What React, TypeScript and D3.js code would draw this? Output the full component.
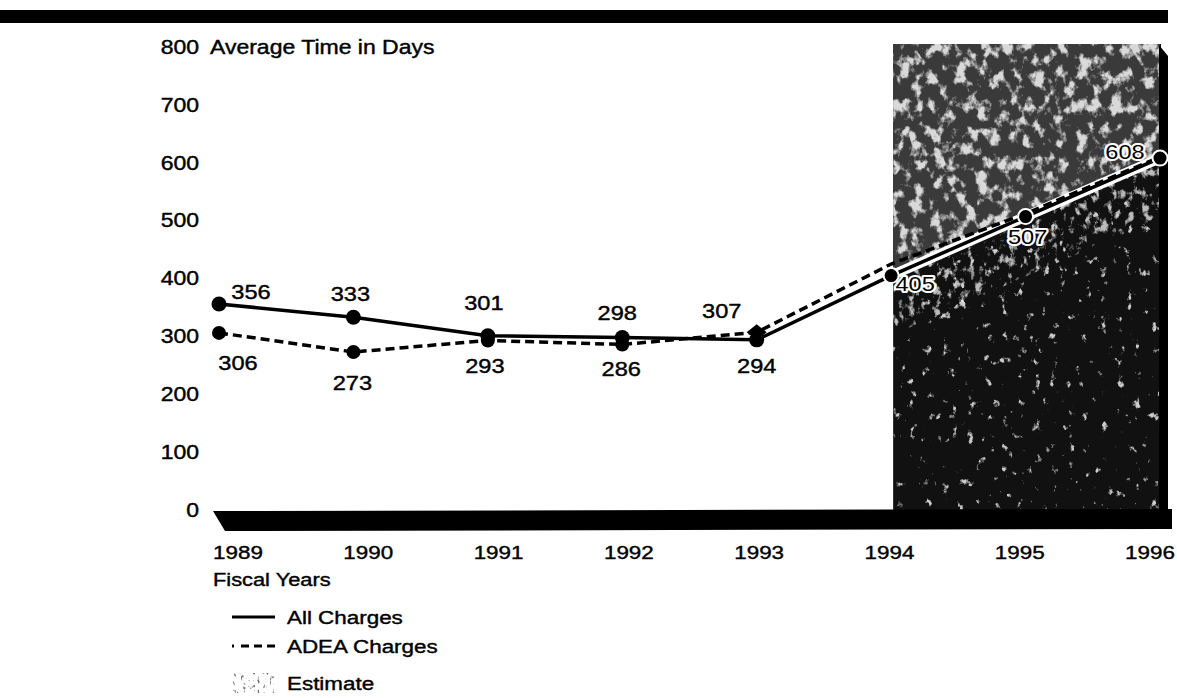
import React from "react";
import * as d3 from "d3";

// fiscal years and average processing time (days)
const years = [1989, 1990, 1991, 1992, 1993, 1994, 1995, 1996];
const allCharges = [356, 333, 301, 298, 294, 405, 507, 608];
const adeaCharges = [306, 273, 293, 286, 307, 425, 512, 610];
const adeaLabelled = 5; // only the actual years carry a value label on the ADEA line
const yTicks = [0, 100, 200, 300, 400, 500, 600, 700, 800];
const estimateFrom = 1994;
const legendItems = ["All Charges", "ADEA Charges", "Estimate"];

// label placement relative to each point (layout only)
const allOffsets = [[32, -12], [-3, -23], [-4, -33], [-5, -25], [0, 26], [24, 8], [2, 20], [-35, -6]];
const adeaOffsets = [[19, 30], [-1, 31], [-3, 26], [-1, 25], [-35, -21]];

const W = 1177;
const H = 698;
const FONT = "'Liberation Sans', Arial, Helvetica, sans-serif";

function Txt({ x, y, children, anchor = "start", size = 19.5, sx = 1.18, halo = false }: any) {
  return (
    <text
      transform={`translate(${x},${y}) scale(${sx},1)`}
      textAnchor={anchor}
      dy="0.35em"
      fontSize={size}
      fontFamily={FONT}
      fill="#000"
      stroke={halo ? "#fff" : "#000"}
      strokeWidth={halo ? 4 : 0.4}
      paintOrder="stroke"
      strokeLinejoin="round"
    >
      {children}
    </text>
  );
}

export default function App() {
  const x = d3.scalePoint<number>().domain(years).range([219, 1160]);
  const y = d3.scaleLinear().domain([0, 800]).range([510, 47]);
  const xLabel = d3.scalePoint<number>().domain(years).range([238, 1150]);

  const line = d3
    .line<number>()
    .x((_, i) => x(years[i])!)
    .y((d) => y(d));

  // estimate panel
  const estLeft = x(estimateFrom)! + 2;
  const estRight = x(years[years.length - 1])! + 1;
  const estTop = y(800) - 3;
  const estBottom = y(0);
  const estIdx = years.map((_, i) => i).filter((i) => years[i] >= estimateFrom);
  const estPts = estIdx.map((i) => ({ x: x(years[i])!, v: allCharges[i] }));

  const upperArea = d3
    .area<{ x: number; v: number }>()
    .x((d) => d.x)
    .y0(estTop)
    .y1((d) => y(d.v))(estPts);
  const lowerArea = d3
    .area<{ x: number; v: number }>()
    .x((d) => d.x)
    .y0((d) => y(d.v))
    .y1(estBottom)(estPts);
  const bandArea = d3
    .area<{ x: number; v: number }>()
    .x((d) => d.x)
    .y0((d) => y(d.v))
    .y1((d) => y(d.v) + 60)(estPts);

  const baseY = y(0);

  const diamond = (cx: number, cy: number) =>
    `M${cx},${cy - 8} L${cx + 10},${cy} L${cx},${cy + 8} L${cx - 10},${cy} Z`;

  const legendY = [617, 646, 683];
  const panel = { x: estLeft, y: estTop, width: estRight - estLeft, height: estBottom - estTop };

  return (
    <div style={{ position: "absolute", left: 0, top: 0, background: "#fff" }}>
      <svg width={W} height={H} viewBox={`0 0 ${W} ${H}`} style={{ display: "block" }}>
        <defs>
          <filter id="spkHi" filterUnits="userSpaceOnUse" x="0" y="0" width={W} height={H} colorInterpolationFilters="sRGB">
            <feTurbulence type="fractalNoise" baseFrequency="0.09 0.07" numOctaves={4} seed={7} result="n" />
            <feColorMatrix in="n" type="matrix" values="0 0 0 0 0.85  0 0 0 0 0.85  0 0 0 0 0.85  6 0 0 0 -3.0" result="s" />
            <feComposite in="s" in2="SourceGraphic" operator="in" />
          </filter>
          <filter id="spkLo" filterUnits="userSpaceOnUse" x="0" y="0" width={W} height={H} colorInterpolationFilters="sRGB">
            <feTurbulence type="fractalNoise" baseFrequency="0.12 0.09" numOctaves={4} seed={11} result="n" />
            <feColorMatrix in="n" type="matrix" values="0 0 0 0 0.8  0 0 0 0 0.8  0 0 0 0 0.8  8 0 0 0 -5.4" result="s" />
            <feComposite in="s" in2="SourceGraphic" operator="in" />
          </filter>
          <filter id="spkBand" filterUnits="userSpaceOnUse" x="0" y="0" width={W} height={H} colorInterpolationFilters="sRGB">
            <feTurbulence type="fractalNoise" baseFrequency="0.12 0.09" numOctaves={4} seed={4} result="n" />
            <feColorMatrix in="n" type="matrix" values="0 0 0 0 0.9  0 0 0 0 0.9  0 0 0 0 0.9  6 0 0 0 -3.3" result="s" />
            <feComposite in="s" in2="SourceGraphic" operator="in" />
          </filter>
          <filter id="spkLegend" filterUnits="userSpaceOnUse" x="0" y="0" width={W} height={H} colorInterpolationFilters="sRGB">
            <feTurbulence type="fractalNoise" baseFrequency="0.3 0.2" numOctaves={2} seed={3} result="n" />
            <feColorMatrix in="n" type="matrix" values="0 0 0 0 0.45  0 0 0 0 0.45  0 0 0 0 0.45  6 0 0 0 -3.6" result="s" />
            <feComposite in="s" in2="SourceGraphic" operator="in" />
          </filter>
          <linearGradient id="bandFade" x1="0" y1="0" x2="0" y2="1">
            <stop offset="0" stopColor="#fff" stopOpacity={1} />
            <stop offset="1" stopColor="#fff" stopOpacity={0} />
          </linearGradient>
          <clipPath id="clipUpper">
            <path d={upperArea!} />
          </clipPath>
          <clipPath id="clipLower">
            <path d={lowerArea!} />
          </clipPath>
          <clipPath id="clipBand">
            <path d={bandArea!} />
          </clipPath>
        </defs>

        {/* top rule */}
        <rect x={0} y={10} width={1168} height={13} fill="#000" />

        {/* estimate panel */}
        <rect {...panel} fill="#111" />
        <rect {...panel} fill="#3a3a3a" clipPath="url(#clipUpper)" />
        <rect {...panel} fill="#000" filter="url(#spkHi)" clipPath="url(#clipUpper)" />
        <rect {...panel} fill="#000" filter="url(#spkLo)" clipPath="url(#clipLower)" />
        <rect {...panel} fill="#000" filter="url(#spkBand)" clipPath="url(#clipBand)" opacity={0.8} />
        {/* panel side shadow */}
        <polygon
          points={`${estRight - 2},${estTop + 1} ${estRight + 7},${estTop + 12} ${estRight + 7},${estBottom + 2} ${estRight - 2},${estBottom + 2}`}
          fill="#000"
        />

        {/* baseline slab */}
        <polygon
          points={`${x(years[0])! - 6},${baseY + 1} ${1172},${baseY - 1} ${1172},${baseY + 19} ${x(years[0])! + 6},${baseY + 21}`}
          fill="#000"
        />

        {/* y tick labels */}
        {yTicks.map((t) => (
          <Txt key={t} x={199} y={y(t)} anchor="end">
            {t}
          </Txt>
        ))}
        <Txt x={210} y={y(800)}>Average Time in Days</Txt>

        {/* x labels */}
        {years.map((yr) => (
          <Txt key={yr} x={xLabel(yr)} y={552} anchor="middle" size={19}>
            {yr}
          </Txt>
        ))}
        <Txt x={213} y={580} size={18.5}>Fiscal Years</Txt>

        {/* halo so the lines read on the dark panel */}
        <path d={line(allCharges)!} fill="none" stroke="#fff" strokeWidth={10} strokeLinejoin="round" />

        {/* ADEA charges */}
        <path d={line(adeaCharges)!} fill="none" stroke="#000" strokeWidth={3.5} strokeDasharray="9 5" />
        {adeaCharges.slice(0, adeaLabelled).map((v, i) =>
          years[i] === 1993 ? (
            <path key={i} d={diamond(x(years[i])!, y(v))} fill="#000" />
          ) : (
            <circle key={i} cx={x(years[i])} cy={y(v)} r={7} fill="#000" />
          )
        )}

        {/* all charges */}
        <path d={line(allCharges)!} fill="none" stroke="#000" strokeWidth={3.5} strokeLinejoin="round" />
        {allCharges.map((v, i) => (
          <circle key={i} cx={x(years[i])} cy={y(v)} r={7.5} fill="#000" stroke="#fff" strokeWidth={years[i] >= estimateFrom ? 2 : 0} />
        ))}

        {/* value labels */}
        {allCharges.map((v, i) => (
          <Txt
            key={"a" + i}
            x={x(years[i])! + allOffsets[i][0]}
            y={y(v) + allOffsets[i][1]}
            anchor="middle"
            size={20}
            halo={years[i] >= estimateFrom}
          >
            {v}
          </Txt>
        ))}
        {adeaCharges.slice(0, adeaLabelled).map((v, i) => (
          <Txt key={"d" + i} x={x(years[i])! + adeaOffsets[i][0]} y={y(v) + adeaOffsets[i][1]} anchor="middle" size={20}>
            {v}
          </Txt>
        ))}

        {/* legend */}
        <line x1={232} x2={275} y1={legendY[0]} y2={legendY[0]} stroke="#000" strokeWidth={3} />
        <line x1={232} x2={275} y1={legendY[1]} y2={legendY[1]} stroke="#000" strokeWidth={3} strokeDasharray="2 7 8 5 8 5 8" />
        <rect x={233} y={legendY[2] - 10} width={42} height={20} fill="#000" filter="url(#spkLegend)" />
        {legendItems.map((name, i) => (
          <Txt key={name} x={287} y={legendY[i]} size={19}>
            {name}
          </Txt>
        ))}
      </svg>
    </div>
  );
}
